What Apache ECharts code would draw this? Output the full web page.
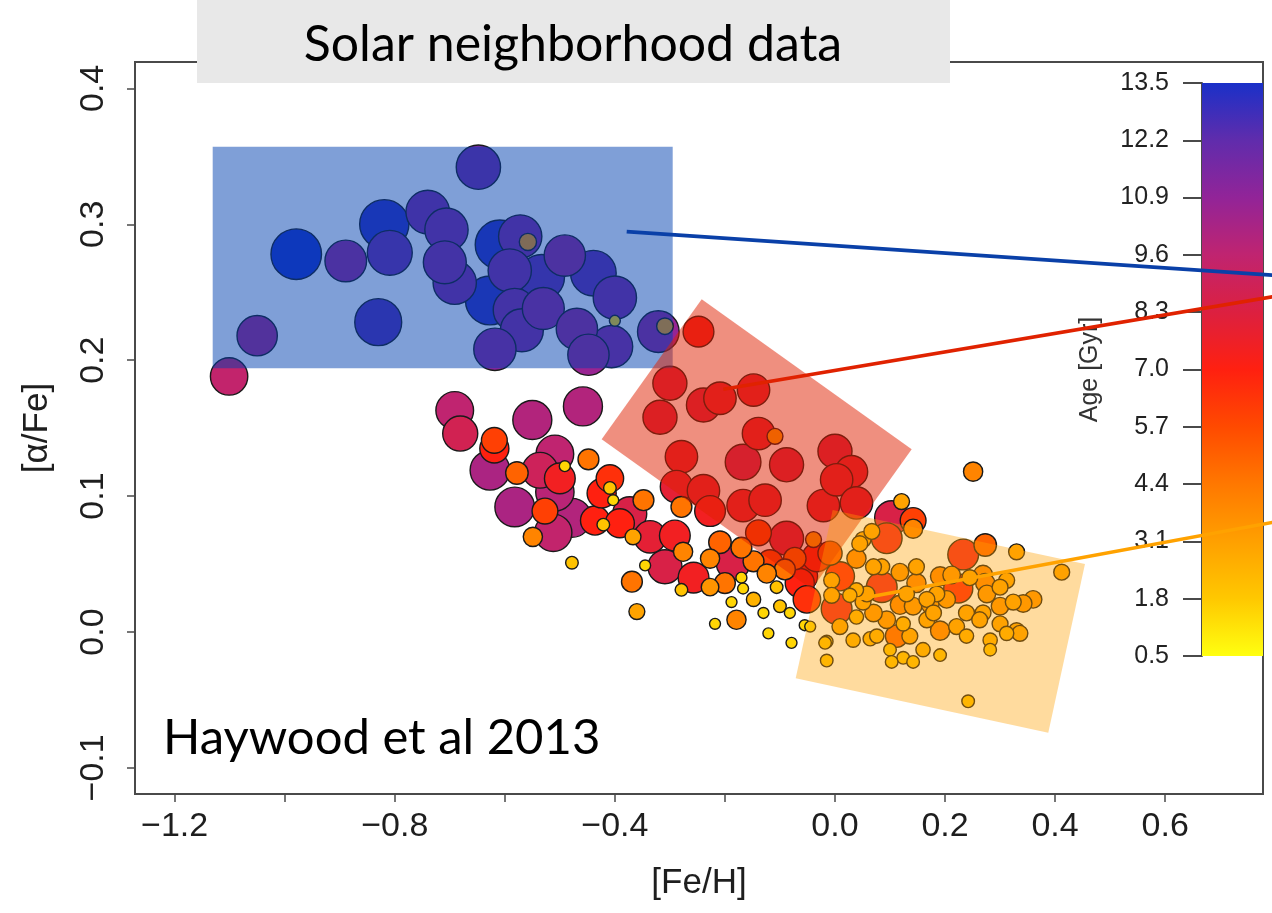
<!DOCTYPE html>
<html>
<head>
<meta charset="utf-8">
<title>Solar neighborhood data</title>
<script src="https://cdn.jsdelivr.net/npm/echarts@6/dist/echarts.min.js"></script>
<style>
  html, body { margin: 0; padding: 0; background: #ffffff; }
  #chart { width: 1272px; height: 913px; }
</style>
</head>
<body>
<div id="chart"></div>
<script>
// [Fe/H] of each star
const feh = [
  // old, alpha-rich stars
  -0.648,-0.979,-0.889,-0.819,-0.809,-0.740,-0.706,-0.709,-0.691,-0.609,-0.572,-0.558,-0.591,-0.533,-0.627,-0.582,
  -0.530,-0.569,-0.491,-0.439,-0.400,-0.469,-0.406,-0.448,-0.618,-0.830,-1.050,-1.101,-0.321,-0.309,-0.400,
  // transition sequence
  -0.691,-0.681,-0.550,-0.458,-0.619,-0.619,-0.627,-0.578,-0.509,-0.536,-0.491,-0.500,-0.448,-0.582,-0.509,-0.527,
  -0.478,-0.512,-0.549,-0.478,-0.436,-0.409,-0.424,-0.409,-0.421,-0.391,-0.373,-0.348,-0.403,-0.336,-0.367,-0.291,
  -0.309,-0.257,-0.369,-0.360,-0.345,-0.276,-0.227,-0.209,-0.185,-0.200,-0.179,-0.218,-0.148,-0.121,-0.170,-0.167,
  -0.124,-0.106,-0.100,-0.082,-0.051,-0.073,-0.058,-0.033,-0.139,-0.088,-0.039,-0.227,-0.188,-0.079,-0.130,-0.279,
  -0.118,-0.091,-0.148,-0.170,-0.064,-0.055,-0.045,-0.279,
  // intermediate-age group
  -0.248,-0.300,-0.239,-0.209,-0.318,-0.148,-0.139,-0.109,-0.279,-0.167,-0.088,0.000,0.030,-0.288,-0.239,-0.167,
  -0.127,-0.021,0.003,0.039,-0.227,
  // young, metal-rich stars
  0.121,0.142,0.103,0.251,0.094,0.051,0.142,0.233,0.273,0.330,0.412,0.085,0.003,0.009,-0.009,0.224,
  0.191,0.142,0.094,0.112,0.191,0.300,0.360,0.342,0.330,0.282,0.282,0.239,0.191,0.242,-0.015,-0.015,
  0.033,0.100,0.124,0.142,0.160,0.103,0.064,0.009,0.039,0.070,0.124,0.167,0.173,0.185,0.239,0.269,
  0.276,0.269,0.245,0.148,0.130,0.118,0.051,0.039,-0.006,-0.006,0.039,0.085,0.118,0.148,-0.018,0.076,
  0.221,0.312,0.336,0.300,0.263,0.203,0.167,0.312,0.324,0.058,0.027,0.070,0.212,0.300,0.067,0.045,
  0.179,0.136,0.273
];

// [alpha/Fe] of each star
const alphaFe = [
  0.342,0.278,0.273,0.300,0.279,0.309,0.296,0.272,0.257,0.285,0.291,0.287,0.266,0.261,0.244,0.237,
  0.238,0.222,0.277,0.264,0.246,0.223,0.210,0.204,0.208,0.228,0.218,0.188,0.221,0.225,0.229,

  0.163,0.146,0.156,0.166,0.141,0.135,0.119,0.117,0.131,0.119,0.122,0.113,0.127,0.092,0.103,0.089,
  0.084,0.073,0.070,0.051,0.082,0.113,0.102,0.106,0.079,0.080,0.087,0.097,0.097,0.070,0.070,0.071,
  0.048,0.040,0.037,0.015,0.049,0.059,0.054,0.066,0.051,0.036,0.009,0.006,0.024,-0.001,0.040,0.032,
  0.043,0.033,0.019,0.014,0.024,0.054,0.041,0.055,0.073,0.069,0.068,0.033,0.022,-0.008,0.014,0.031,
  0.051,0.046,0.052,0.062,0.036,0.005,0.004,0.092,

  0.221,0.183,0.167,0.172,0.158,0.178,0.146,0.144,0.129,0.125,0.123,0.133,0.118,0.107,0.104,0.093,
  0.097,0.093,0.112,0.095,0.089,

  0.096,0.082,0.084,0.118,0.069,0.068,0.076,0.057,0.064,0.059,0.044,0.033,0.017,0.041,0.058,0.032,
  0.041,0.019,0.009,-0.003,0.001,0.019,0.024,0.021,0.001,-0.006,-0.013,-0.003,-0.017,-0.051,-0.021,-0.007,
  -0.006,-0.013,-0.019,-0.022,-0.013,-0.022,-0.005,0.004,0.011,0.014,0.006,0.009,0.020,0.028,0.014,0.014,
  0.028,0.042,0.040,0.036,0.028,0.020,0.022,0.031,0.038,0.027,0.054,0.048,0.044,0.048,-0.008,-0.003,
  0.004,-0.001,-0.001,0.006,0.009,0.024,0.024,0.038,0.022,0.028,0.027,0.048,0.042,0.033,0.074,0.065,
  0.014,-0.003,0.036
];

// stellar age in Gyr
const ageGyr = [
  11.6,13.5,10.8,13.1,11.8,11.4,11.3,11.2,11.3,13.1,11.3,3.4,11.3,12.0,13.0,11.2,
  10.9,11.2,10.7,12.0,11.3,10.7,11.0,10.7,11.0,12.4,10.4,9.5,10.8,3.2,1.5,

  9.6,8.8,10.0,10.0,6.0,7.0,10.2,5.0,9.6,9.0,1.5,7.5,4.5,10.2,9.8,6.0,
  10.0,9.5,4.0,2.0,7.0,6.5,7.0,2.0,2.0,7.0,8.5,4.5,1.5,8.0,3.0,7.5,
  8.5,7.5,4.5,3.0,1.5,4.0,4.0,5.0,8.5,4.5,4.0,1.5,2.5,1.5,1.5,1.5,
  4.0,2.0,2.0,1.5,6.5,5.0,7.0,7.0,6.0,8.5,3.0,3.5,1.5,1.5,1.5,2.0,
  6.0,4.5,4.5,4.5,7.0,1.5,1.5,4.5,

  7.5,8.5,8.5,8.0,8.5,8.0,8.0,3.0,8.0,9.0,8.5,8.5,8.0,8.0,8.0,8.0,
  8.0,8.0,8.0,8.0,7.5,

  3.0,6.0,8.5,4.0,7.5,3.0,4.0,7.5,5.0,3.0,3.0,7.5,7.5,7.0,5.5,7.0,
  4.0,3.5,3.5,5.0,4.0,3.5,3.5,3.5,3.0,2.5,2.0,2.5,2.0,2.0,2.0,2.0,
  2.5,2.0,2.0,2.0,2.5,2.0,2.5,3.0,2.5,3.5,2.5,3.0,3.5,3.0,3.0,3.0,
  3.5,4.0,3.0,4.0,3.0,4.0,3.0,2.5,3.0,3.0,4.0,3.0,3.5,3.0,2.0,2.5,
  3.0,2.5,3.0,3.0,3.0,3.5,3.0,3.0,3.0,3.0,2.5,3.0,3.5,3.0,3.0,3.0,
  3.0,3.0,4.0
];

// tick values
const xTickValues = [-1.2, -1.0, -0.8, -0.6, -0.4, -0.2, 0.0, 0.2, 0.4, 0.6];
const xLabelValues = [-1.2, -0.8, -0.4, 0.0, 0.2, 0.4, 0.6];
const yTickValues = [-0.1, 0.0, 0.1, 0.2, 0.3, 0.4];
const ageTickValues = [0.5, 1.8, 3.1, 4.4, 5.7, 7.0, 8.3, 9.6, 10.9, 12.2, 13.5];

// age colour scale, young -> old
const ageColors = ['#ffff10', '#ffc800', '#ffa000', '#ff7800', '#ff4a00', '#ff2010',
                   '#dc2040', '#c02470', '#922498', '#602cac', '#1a30c8'];

// highlighted populations (corners in [Fe/H], [alpha/Fe])
const populationBoxes = [
  { corners: [[-1.1308, 0.3571], [-0.2949, 0.3571], [-0.2949, 0.1940], [-1.1308, 0.1940]], fill: 'rgba(0,64,176,0.5)' },
  { corners: [[-0.4240, 0.1418], [-0.2422, 0.2448], [0.1394, 0.1344], [-0.0423, 0.0314]], fill: 'rgba(224,32,0,0.5)' },
  { corners: [[-0.0042, 0.0898], [0.4543, 0.0500], [0.3876, -0.0741], [-0.0714, -0.0341]], fill: 'rgba(255,160,0,0.38)' }
];
const leaderLines = [
  { from: [-0.3785, 0.2946], to: [0.8000, 0.2624], color: '#0a40a8' },
  { from: [-0.2030, 0.1786], to: [0.8000, 0.2470], color: '#e02200' },
  { from: [0.0394, 0.0241], to: [0.8000, 0.0810], color: '#ffa200' }
];

const AXIS_FONT = '"Liberation Sans", Arial, Helvetica, sans-serif';
const fmtTick = v => v.toFixed(1).replace('-', '\u2212');

// table for the scatter: older stars first so younger ones sit on top
const order = ageGyr.map((a, i) => i).sort((a, b) => ageGyr[b] - ageGyr[a]);
const stars = order.map(i => [feh[i], alphaFe[i], ageGyr[i]]);

const barStops = ageColors.map((c, i) => ({ offset: i / (ageColors.length - 1), color: ageColors[ageColors.length - 1 - i] }));

const chart = echarts.init(document.getElementById('chart'), null, { renderer: 'canvas' });

chart.setOption({
  animation: false,
  backgroundColor: '#ffffff',
  grid: [
    { left: 135, top: 62, width: 1128, height: 732, show: true, borderColor: '#4a4a4a', borderWidth: 2, backgroundColor: 'transparent' },
    { left: 1202, top: 83, width: 61, height: 573, show: false }
  ],
  xAxis: [
    {
      type: 'value', gridIndex: 0, min: -1.272, max: 0.7778, position: 'bottom',
      axisLine: { show: false, onZero: false },
      axisTick: { show: true, customValues: xTickValues, length: 8, lineStyle: { color: '#4a4a4a', width: 1.5 } },
      axisLabel: { customValues: xLabelValues, formatter: fmtTick, fontSize: 34, color: '#1e1e1e', fontFamily: AXIS_FONT, margin: 16 },
      splitLine: { show: false },
      name: '[Fe/H]', nameLocation: 'middle', nameGap: 72,
      nameTextStyle: { fontSize: 35, color: '#1e1e1e', fontFamily: AXIS_FONT }
    },
    { type: 'value', gridIndex: 1, min: 0, max: 1, show: false }
  ],
  yAxis: [
    {
      type: 'value', gridIndex: 0, min: -0.1192, max: 0.4194, position: 'left',
      axisLine: { show: false, onZero: false },
      axisTick: { show: true, customValues: yTickValues, length: 8, lineStyle: { color: '#4a4a4a', width: 1.5 } },
      axisLabel: { customValues: yTickValues, formatter: fmtTick, rotate: 90, fontSize: 34, color: '#1e1e1e', fontFamily: AXIS_FONT, margin: 24 },
      splitLine: { show: false },
      name: '[\u03b1/Fe]', nameLocation: 'middle', nameRotate: 90, nameGap: 80,
      nameTextStyle: { fontSize: 35, color: '#1e1e1e', fontFamily: AXIS_FONT }
    },
    {
      type: 'value', gridIndex: 1, min: 0.5, max: 13.5, position: 'left',
      axisLine: { show: true, onZero: false, lineStyle: { color: '#4a4a4a', width: 2 } },
      axisTick: { show: true, customValues: ageTickValues, length: 19, lineStyle: { color: '#4a4a4a', width: 2 } },
      axisLabel: { customValues: ageTickValues, formatter: v => v.toFixed(1), fontSize: 25, color: '#222222', fontFamily: AXIS_FONT, margin: 33 },
      splitLine: { show: false },
      name: 'Age [Gyr]', nameLocation: 'middle', nameRotate: 90, nameGap: 99,
      nameTextStyle: { fontSize: 25, color: '#333333', fontFamily: AXIS_FONT }
    }
  ],
  visualMap: {
    type: 'continuous', show: false, min: 0.5, max: 13.5, dimension: 2, seriesIndex: 0,
    inRange: { color: ageColors }
  },
  series: [
    {
      type: 'scatter', xAxisIndex: 0, yAxisIndex: 0, z: 2,
      data: stars,
      symbol: 'circle',
      symbolSize: v => 6 + 3.3 * v[2],
      itemStyle: { borderColor: '#1a1a1a', borderWidth: 1.4, opacity: 1 },
      emphasis: { disabled: true }
    },
    {
      type: 'custom', xAxisIndex: 0, yAxisIndex: 0, z: 3, clip: false, silent: true,
      data: populationBoxes.map(b => b.corners[0]),
      renderItem: (params, api) => {
        const box = populationBoxes[params.dataIndex];
        return { type: 'polygon', shape: { points: box.corners.map(c => api.coord(c)) }, style: { fill: box.fill, stroke: null } };
      }
    },
    {
      type: 'custom', xAxisIndex: 0, yAxisIndex: 0, z: 4, clip: false, silent: true,
      data: leaderLines.map(l => l.from),
      renderItem: (params, api) => {
        const l = leaderLines[params.dataIndex];
        const a = api.coord(l.from), b = api.coord(l.to);
        return { type: 'line', shape: { x1: a[0], y1: a[1], x2: b[0], y2: b[1] },
                 style: { stroke: l.color, lineWidth: 3.6 } };
      }
    },
    {
      type: 'custom', xAxisIndex: 1, yAxisIndex: 1, z: 2, silent: true,
      data: [[0, 13.5]],
      renderItem: (params, api) => {
        const p0 = api.coord([0, 13.5]);
        const p1 = api.coord([1, 0.5]);
        return { type: 'rect', shape: { x: p0[0], y: p0[1], width: p1[0] - p0[0], height: p1[1] - p0[1] },
                 style: { fill: new echarts.graphic.LinearGradient(0, 0, 0, 1, barStops) } };
      }
    }
  ],
  graphic: [
    { type: 'rect', left: 197, top: 0, z: 100, shape: { width: 753, height: 83 }, style: { fill: '#e8e8e8' } },
    { type: 'text', x: 573, y: 45, z: 101,
      style: { text: 'Solar neighborhood data', font: '50px Lato, "Noto Sans", sans-serif', fill: '#000000', align: 'center', verticalAlign: 'middle' } },
    { type: 'text', x: 163, y: 738, z: 101,
      style: { text: 'Haywood et al 2013', font: '49px Lato, "Noto Sans", sans-serif', fill: '#000000', align: 'left', verticalAlign: 'middle' } }
  ]
});
</script>
</body>
</html>
